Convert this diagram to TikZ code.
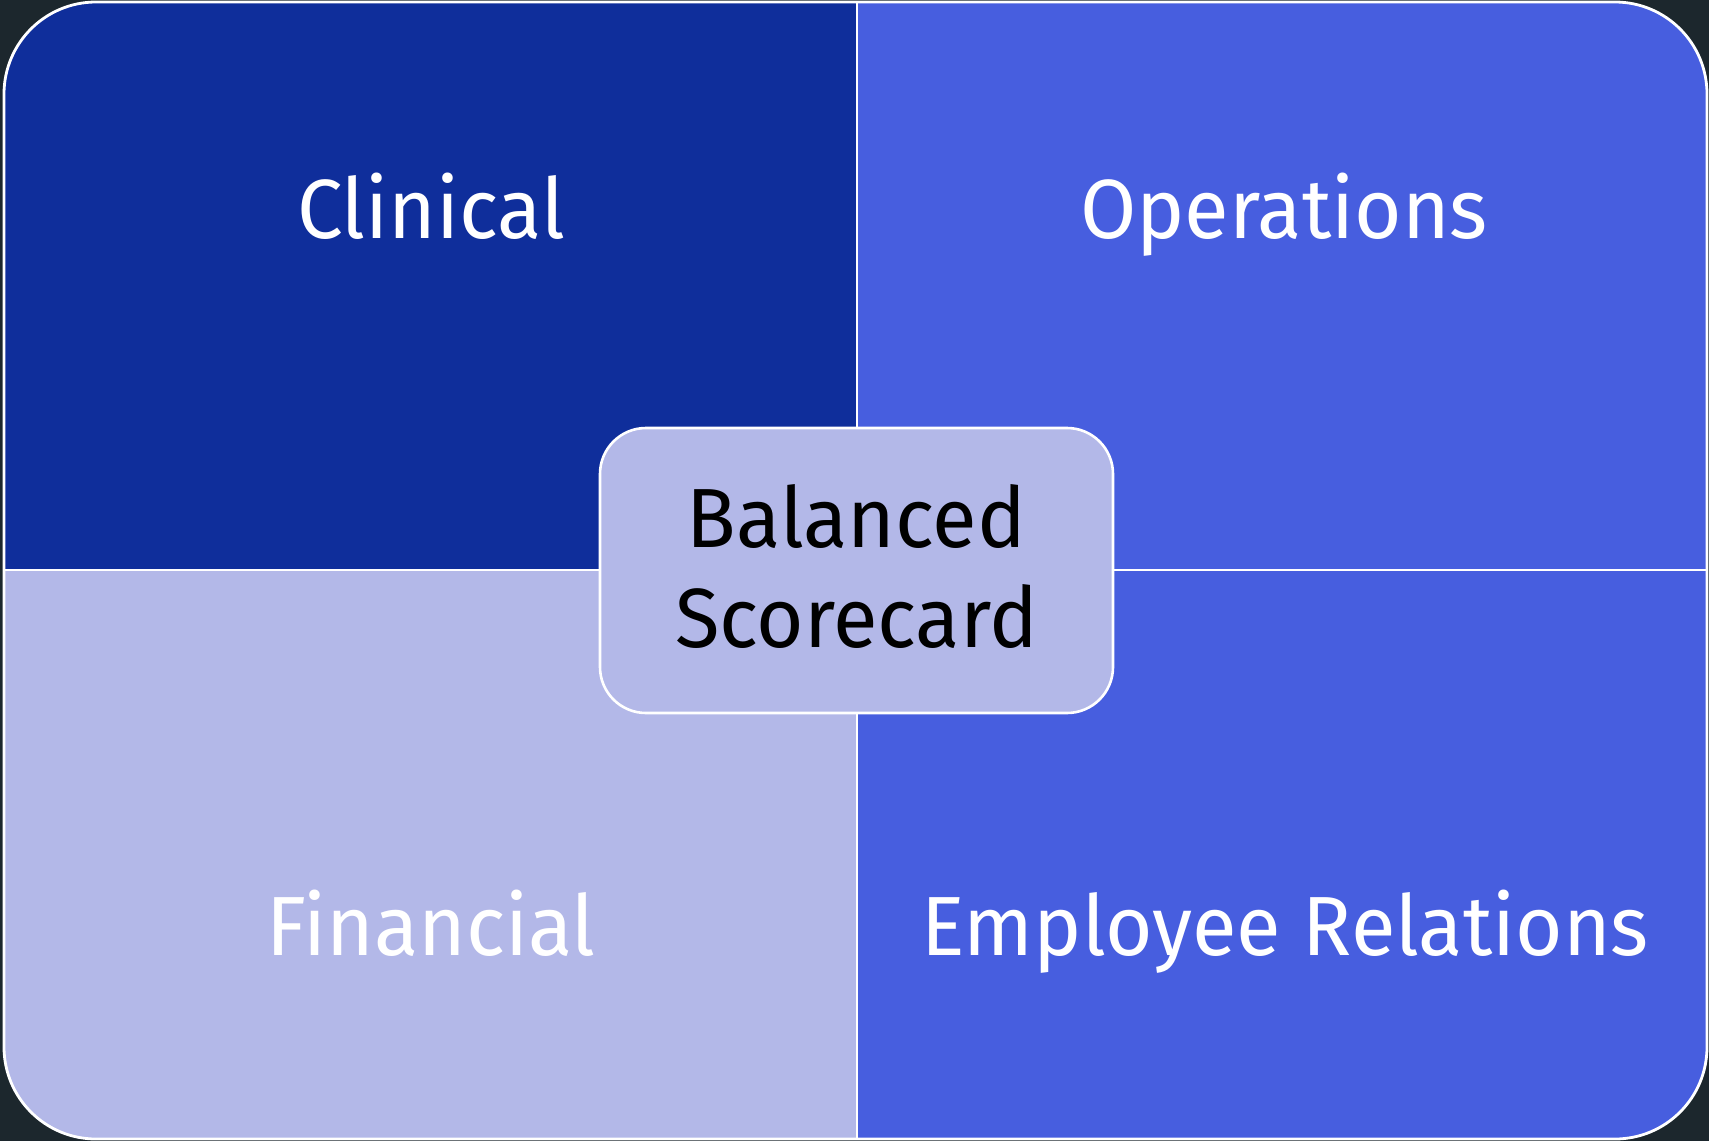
\documentclass[tikz,border=0pt]{standalone}
\usepackage{fontspec}
\setmainfont[FakeStretch=0.97]{Fira Sans}
\definecolor{bgdark}{RGB}{28,39,45}
\definecolor{qdark}{RGB}{15,46,155}
\definecolor{qmid}{RGB}{71,94,223}
\definecolor{qlight}{RGB}{179,184,232}
\tikzset{
  lbl/.style={font=\fontsize{84}{100}\selectfont, anchor=base, inner sep=0pt},
  divline/.style={draw=white, line width=2.8pt},
}
\begin{document}
\begin{tikzpicture}[x=1pt,y=-1pt]
\fill[bgdark] (0,0) rectangle (1709,1141);
\useasboundingbox (0,0) rectangle (1709,1141);
\begin{scope}
\clip[rounded corners=92pt] (4,2) rectangle (1707,1139);
\fill[qdark] (4,2) rectangle (857,570);
\fill[qmid] (857,2) rectangle (1707,570);
\fill[qlight] (4,570) rectangle (857,1139);
\fill[qmid] (857,570) rectangle (1707,1139);
\end{scope}
\coordinate (top) at (857,2);
\coordinate (bot) at (857,1139);
\coordinate (lft) at (4,570);
\coordinate (rgt) at (1707,570);
\draw[divline] (top) -- (bot);
\draw[divline] (lft) -- (rgt);
\draw[divline, rounded corners=92pt] (4,2) rectangle (1707,1139);
\node[draw=white, line width=2.6pt, fill=qlight, rounded corners=46pt, minimum width=513pt, minimum height=285pt] (center) at (856.5,570.5) {};
\node[lbl, text=white] (clin) at (431,238) {Clinical};
\node[lbl, text=white] (oper) at (1284,238) {Operations};
\node[lbl, text=white] (fin) at (431,955) {Financial};
\node[lbl, text=white] (emp) at (1285,955) {Employee Relations};
\node[lbl, text=black] (bal1) at (856.5,547) {Balanced};
\node[lbl, text=black] (bal2) at (856.5,647) {Scorecard};
\end{tikzpicture}
\end{document}
